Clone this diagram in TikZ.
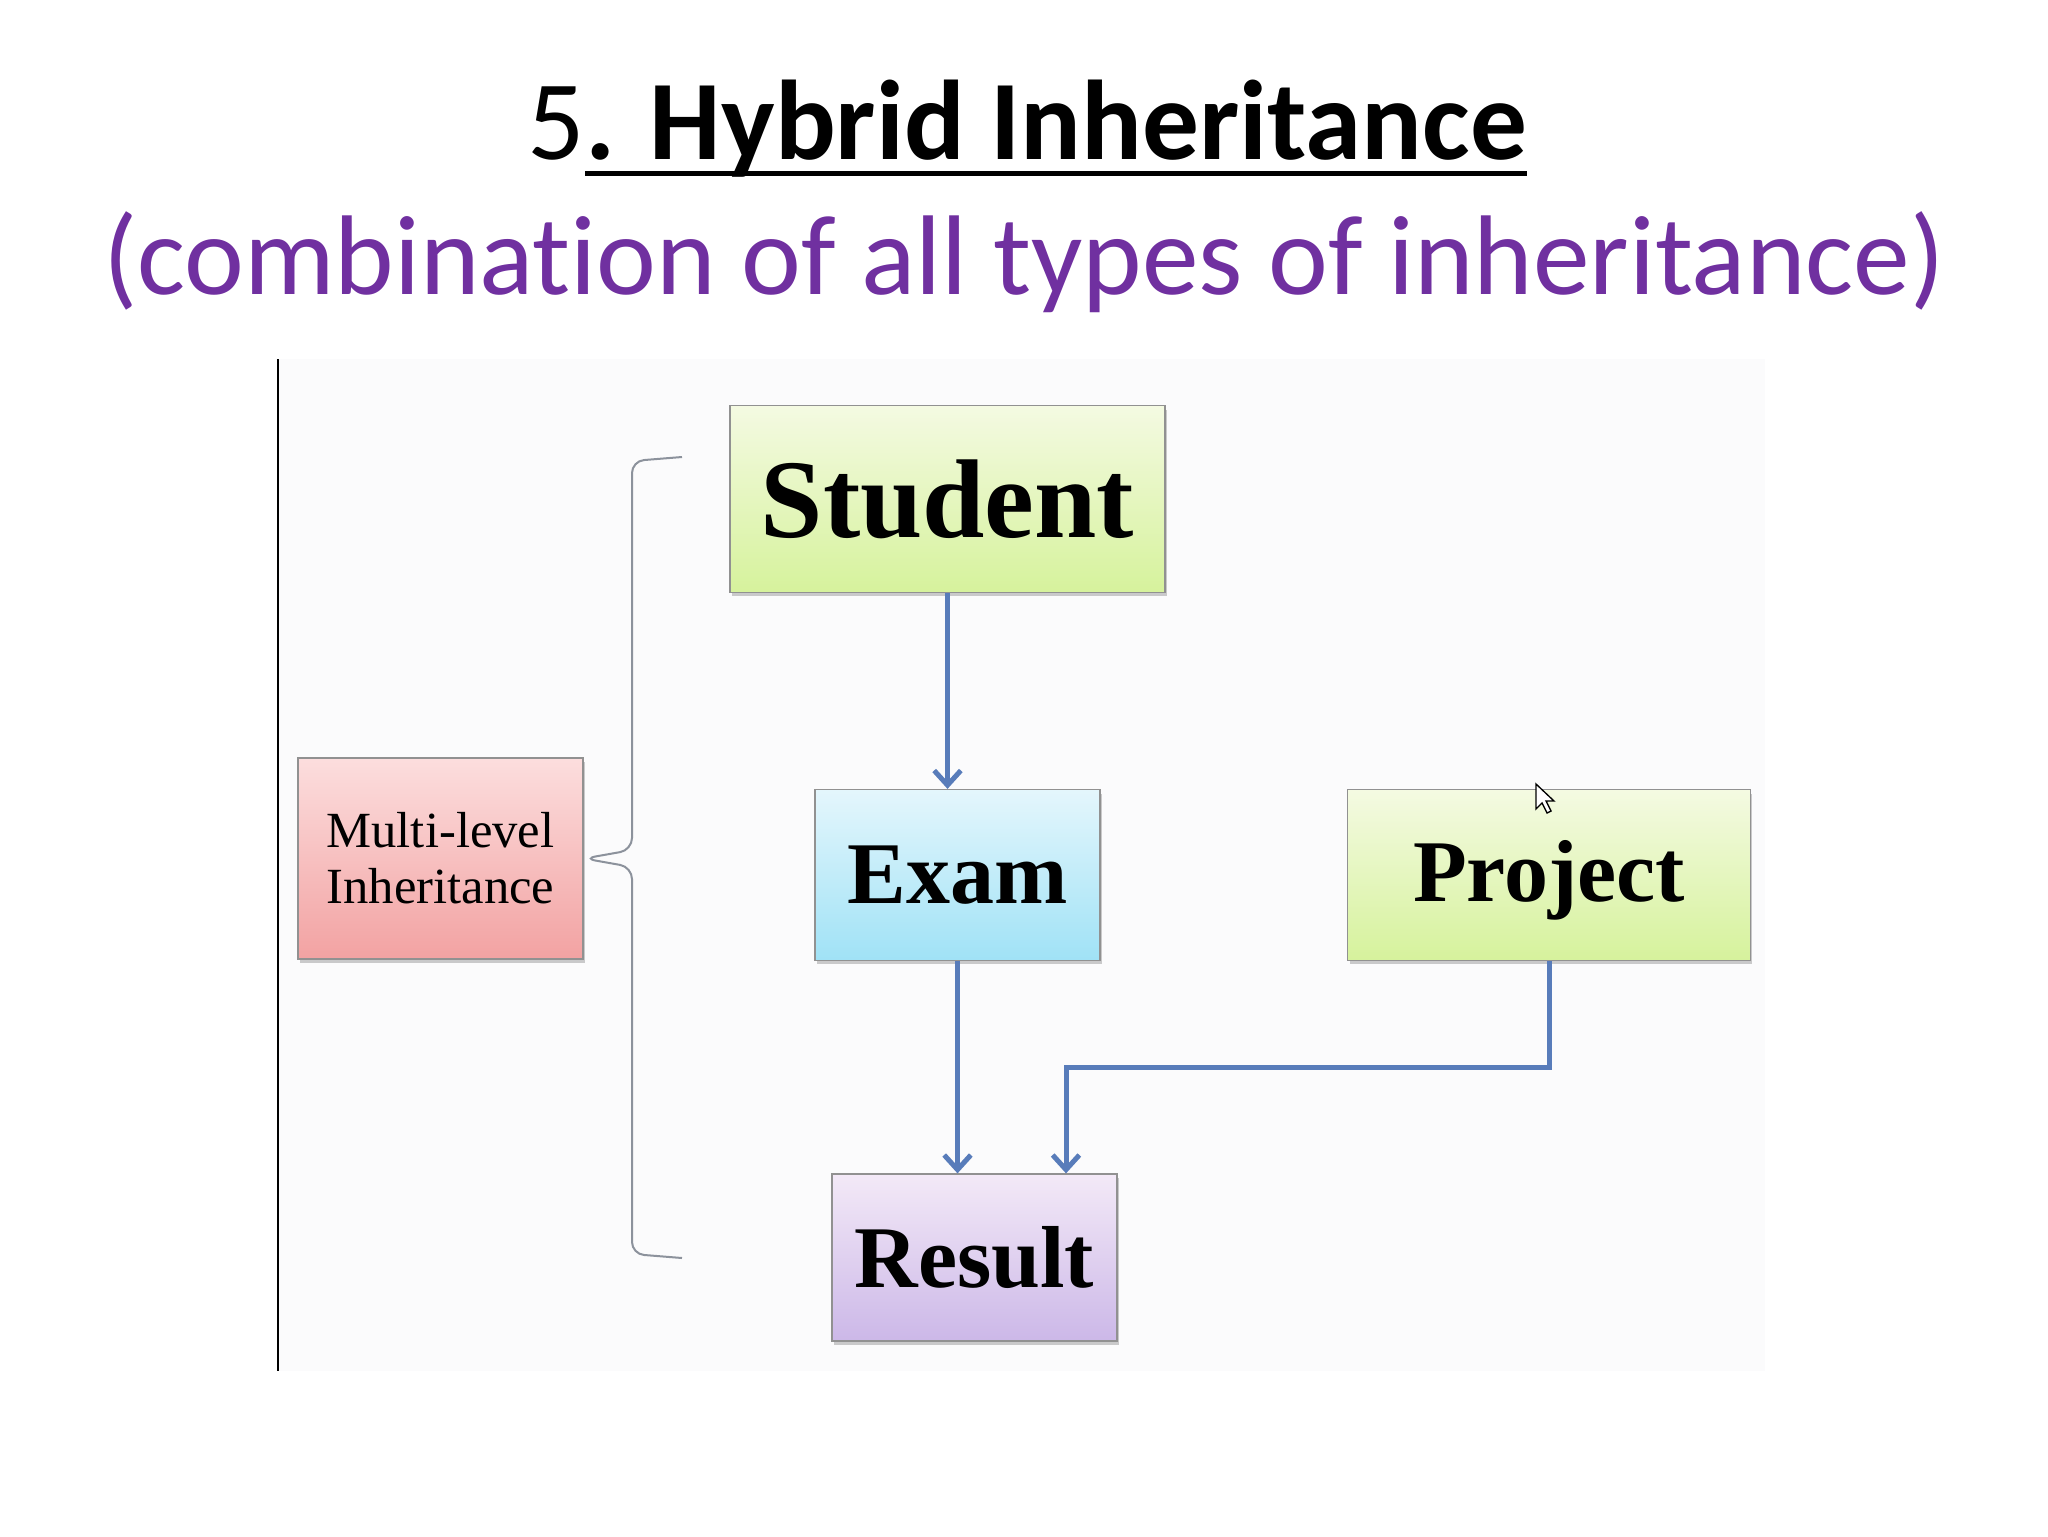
\documentclass[tikz,border=0pt]{standalone}
\usepackage{fontspec}
\setmainfont{Liberation Serif}
\newfontfamily\slidefont[Ligatures={NoCommon}]{Carlito}
\usetikzlibrary{arrows.meta,shadows}

\definecolor{titlepurple}{RGB}{112,48,160}
\definecolor{linkblue}{RGB}{88,124,186}
\definecolor{bracegray}{RGB}{140,146,156}
\definecolor{boxgray}{RGB}{145,145,145}
\definecolor{screengray}{RGB}{251,251,252}
\definecolor{greentop}{RGB}{244,250,226}
\definecolor{greenbot}{RGB}{214,242,156}
\definecolor{bluetop}{RGB}{228,246,252}
\definecolor{bluebot}{RGB}{160,226,246}
\definecolor{purpletop}{RGB}{243,233,247}
\definecolor{purplebot}{RGB}{204,184,232}
\definecolor{redtop}{RGB}{252,222,222}
\definecolor{redbot}{RGB}{242,162,162}

\tikzset{every picture/.style={line width=0.75pt}}
\tikzset{
  classbox/.style={draw=boxgray, line width=1.2pt, inner sep=0pt, align=center,
    font=\bfseries\fontsize{66}{70}\selectfont,
    drop shadow={shadow xshift=1.5pt,shadow yshift=-3pt,opacity=0.4}},
  link/.style={draw=linkblue, line width=3.75pt, -{Straight Barb[length=11pt,width=20pt]}},
  brace/.style={draw=bracegray, line width=1.5pt, rounded corners=9pt},
}

\begin{document}
\begin{tikzpicture}[x=0.75pt,y=0.75pt,yscale=-1,xscale=1]
\fill[white] (0,0) rectangle (2048,1536);

%Shape: Rectangle (screen area)
\fill[screengray] (278,359) rectangle (1765,1371);
%Straight Lines
\draw[line width=1.5pt] (278,359) -- (278,1371);

% Text Node
\node (title) [anchor=base west, inner sep=0pt, font=\slidefont\bfseries\fontsize{85}{90}\selectfont] at (585,159) {. Hybrid Inheritance};
% Text Node
\node (num) [anchor=base east, inner sep=0pt, font=\slidefont\fontsize{85}{90}\selectfont] at (title.base west) {5};
\draw[line width=3.75pt] ([yshift=11pt]title.base west) -- ([yshift=11pt]title.base east);
% Text Node
\node (subtitle) [anchor=base, inner sep=0pt, text=titlepurple, font=\slidefont\fontsize{85}{90}\selectfont] at (1024,294) {(combination of all types of inheritance)};

%Shape: Rectangle
\node (Student) [classbox, top color=greentop, bottom color=greenbot, minimum width=326pt, minimum height=140pt, font=\bfseries\fontsize{84}{90}\selectfont] at (947.5,499) {Student};
%Shape: Rectangle
\node (Exam) [classbox, top color=bluetop, bottom color=bluebot, minimum width=214pt, minimum height=128pt] at (957.5,875) {Exam};
%Shape: Rectangle
\node (Project) [classbox, top color=greentop, bottom color=greenbot, minimum width=302pt, minimum height=128pt, text depth=6pt] at (1549,875) {Project};
%Shape: Rectangle
\node (Result) [classbox, top color=purpletop, bottom color=purplebot, minimum width=214pt, minimum height=125pt] at (974.5,1257.5) {Result};
%Shape: Rectangle
\node (Multi) [classbox, top color=redtop, bottom color=redbot, minimum width=214pt, minimum height=151pt, font=\fontsize{38}{42}\selectfont] at (440.5,858.5) {Multi-level\\Inheritance};

%Straight Lines
\draw[link] (Student.south) -- (Student.south |- Exam.north);
%Straight Lines
\draw[link] (Exam.south) -- (Exam.south |- Result.north);
%Straight Lines
\coordinate (bend) at (1066,1067);
\draw[link] (Project.south) |- (bend) -- (bend |- Result.north);

%Brace
\draw[brace] (682,457) -- (632,461) -- (632,850) -- (Multi.east) -- (632,867) -- (632,1254) -- (682,1258);

%Shape: Cursor
\draw[fill=white, line width=1pt] (1536,784) -- ++(0,25) -- ++(6,-6) -- ++(5,10) -- ++(4,-2) -- ++(-5,-10) -- ++(8,0) -- cycle;

\end{tikzpicture}
\end{document}
